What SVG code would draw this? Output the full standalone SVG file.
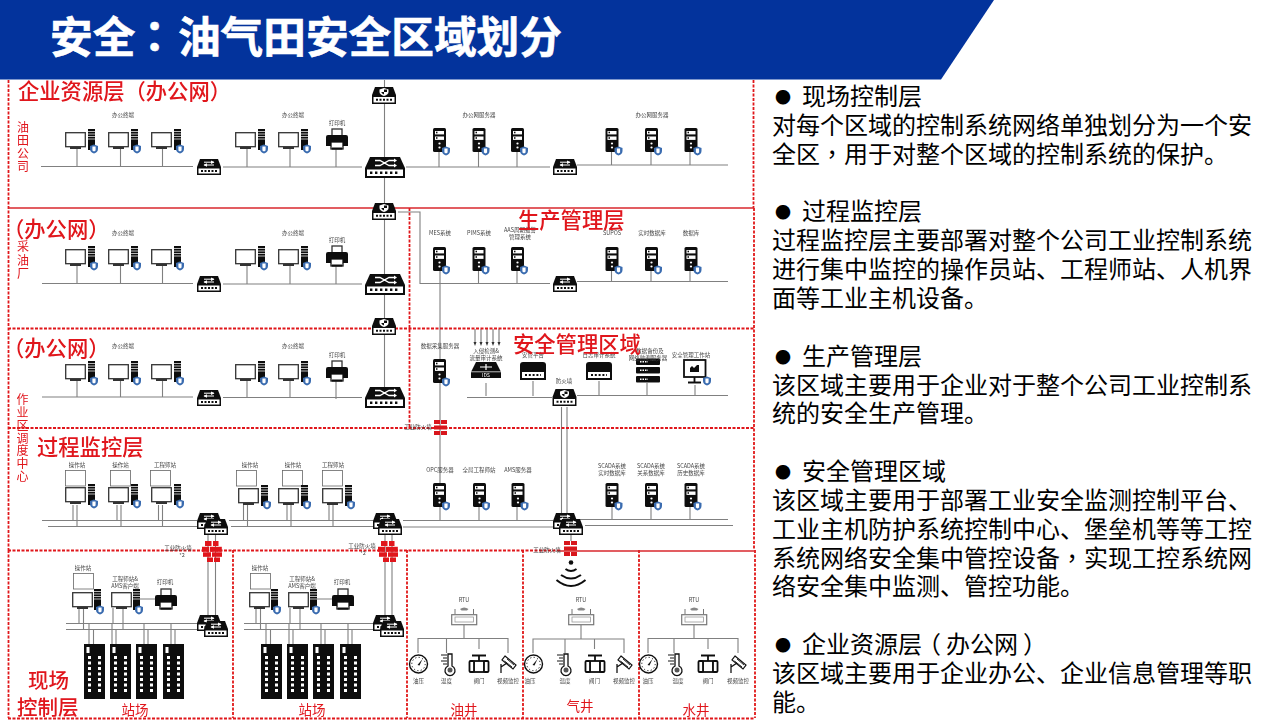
<svg xmlns="http://www.w3.org/2000/svg" width="1280" height="720" viewBox="0 0 1280 720">
<style>
text{font-family:"Noto Sans CJK SC","Noto Sans",sans-serif}
.t{font-size:24px;fill:#000}
.p{font-family:"Noto Sans CJK TC",sans-serif}
.s{font-size:5.5px;fill:#444;text-anchor:middle}
.r{font-size:21.3px;fill:#e0141a;font-weight:500}
.v{font-size:12px;fill:#e0141a;text-anchor:middle}
.w{font-size:13.5px;fill:#e0141a;text-anchor:middle}
.c{stroke:#808080;stroke-width:1.1;fill:none}
.d{stroke:#e0141a;stroke-width:1.8;stroke-dasharray:3 1.5;fill:none}
.f{stroke:#d9262b;stroke-width:1.7;fill:none}
.m{fill:#fff;stroke:#333;stroke-width:1.3}
.u{fill:#fff;stroke:#666;stroke-width:.8}
.k{fill:#111}
.wl{fill:none;stroke:#fff;stroke-width:1}
</style>
<defs>
<filter id="soft" filterUnits="userSpaceOnUse" x="0" y="0" width="1280" height="720"><feGaussianBlur stdDeviation="0.35"/></filter>
<g id="sh"><path d="M0 -4.5L4 -3V0Q4 3 0 4.5Q-4 3 -4 0V-3Z" fill="#3a6cb0"/><path d="M-1.6 -2.5H1.6V1.5L0 2.6L-1.6 1.5Z" fill="#fff"/></g>
<g id="tw"><rect x="0" y="0" width="7" height="21" class="k"/><path d="M0 2.5H7M0 5H7M0 7.5H7M0 10H7" stroke="#fff" stroke-width=".7"/></g>
<g id="pc"><rect x=".7" y=".7" width="19.6" height="14" class="m"/><rect x="5" y="15" width="11" height="2" fill="#333"/><use href="#tw" x="23" y="-3"/><use href="#sh" x="29" y="17"/></g>
<g id="pc2"><rect x=".7" y=".7" width="19.6" height="14" class="m"/><rect x="5" y="15" width="11" height="2" fill="#333"/><use href="#tw" x="22" y="-3"/><use href="#sh" x="28" y="18"/></g>
<g id="up"><rect x=".5" y=".5" width="20" height="15.5" class="u"/></g>
<g id="srv"><rect x="0" y="0" width="13" height="24" rx="1.5" class="k"/><rect x="2" y="3" width="9" height="3.4" fill="#fff"/><rect x="2" y="8.5" width="9" height="3.4" fill="#fff"/><rect x="3" y="3.7" width="1.5" height="1.6" class="k"/><rect x="3" y="9.2" width="1.5" height="1.6" class="k"/><circle cx="6.5" cy="15.5" r="1.1" fill="#fff"/><circle cx="6.5" cy="19.5" r="1.1" fill="#fff"/><use href="#sh" x="13" y="23"/></g>
<g id="sw"><path d="M3 0H21L24 8V16H0V8Z" class="k"/><rect x="1.5" y="9.5" width="21" height="5" fill="#fff"/><path d="M4 12H20" stroke="#111" stroke-width="2" stroke-dasharray="2 1.5"/><path d="M7 3.2H17M7 6H17" class="wl"/><path d="M14 1.5L17.5 3.2L14 4.9ZM10 4.3L6.5 6L10 7.7Z" fill="#fff"/></g>
<g id="fw"><path d="M3 0H21L24 8V17H0V8Z" class="k"/><rect x="1.5" y="10" width="21" height="5.5" fill="#fff"/><path d="M4 12.7H20" stroke="#111" stroke-width="2" stroke-dasharray="2 1.5"/><path d="M12 1L16.5 2.4V5Q16.5 7.5 12 9Q7.5 7.5 7.5 5V2.4Z" fill="#fff"/><path d="M12 2.5H15V5H12ZM12 5H9.2Q9.8 6.7 12 7.5Z" class="k"/></g>
<g id="core"><path d="M5 0H35L40 11V21H0V11Z" class="k"/><rect x="2" y="12.5" width="36" height="6.5" fill="#fff"/><path d="M5 15.7H35" stroke="#111" stroke-width="2.4" stroke-dasharray="2.4 2.6"/><path d="M10 3.5H15L24 8.5H30M10 8.5H15L24 3.5H30" stroke="#fff" stroke-width="1.3" fill="none"/><path d="M29 1.5L32 3.5L29 5.5ZM29 6.5L32 8.5L29 10.5Z" fill="#fff"/></g>
<g id="prn"><rect x="6" y="0" width="10" height="8" class="m"/><path d="M2 6H20Q22 6 22 8V17H0V8Q0 6 2 6Z" class="k"/><rect x="5" y="13" width="12" height="7" fill="#fff" stroke="#111" stroke-width="1.3"/><rect x="6" y="18.5" width="10" height="2" class="k"/></g>
<g id="rb"><g fill="#e0141a"><rect x="3" y="0" width="6.5" height="5"/><rect x="11" y="0" width="5.5" height="5"/><rect x="0" y="5.8" width="7" height="5"/><rect x="7.8" y="5.8" width="12" height="5"/><rect x="1" y="11.3" width="8" height="4.5"/><rect x="10" y="11.3" width="10" height="4.5"/><rect x="5" y="16.5" width="6" height="4.5"/><rect x="12" y="16.5" width="6" height="4.5"/></g></g>
<g id="rs"><g fill="#d8141a"><rect x="0" y="0" width="6" height="4"/><rect x="7" y="0" width="6" height="4"/><rect x="0" y="5.5" width="13" height="4"/><rect x="0" y="11" width="6" height="4"/><rect x="7" y="11" width="6" height="4"/></g></g>
<g id="mod"><rect width="21" height="55" class="k"/><rect x="2.5" y="3" width="3" height="6" fill="#fff"/><g fill="#fff"><path d="M4 12h3v3h-3zM14 12h3v3h-3zM4 17.5h3v3h-3zM14 17.5h3v3h-3zM4 23h3v3h-3zM14 23h3v3h-3zM4 28.5h3v3h-3zM14 28.5h3v3h-3zM4 34h3v3h-3zM14 34h3v3h-3zM4 39.5h3v3h-3zM14 39.5h3v3h-3zM4 45h3v3h-3zM14 45h3v3h-3z"/></g></g>
<g id="box"><path d="M3 0H23Q26 0 26 3V18H0V3Q0 0 3 0Z" class="k"/><rect x="2" y="10" width="22" height="6" fill="#fff"/><path d="M5 13H21" stroke="#111" stroke-width="2.2" stroke-dasharray="2 1.8"/></g>
<g id="rtu"><rect x=".7" y=".7" width="25" height="10" fill="#fff" stroke="#777" stroke-width="1.2"/><rect x="4" y="3" width="18.5" height="5" fill="#fff" stroke="#999" stroke-width=".8"/><path d="M4 0V-5M22.5 0V-5" stroke="#777" stroke-width="1"/><path d="M9 -5Q13 -8 17.5 -5L16 -3.5H10.5Z" fill="#888"/></g>
<g id="gauge"><circle r="9" fill="#fff" stroke="#111" stroke-width="1.4"/><circle r="6.7" fill="none" stroke="#111" stroke-width="1" stroke-dasharray="1.2 2.3"/><path d="M-1 1L4 -5L1 1.5Z" class="k"/></g>
<g id="thermo"><path d="M-2 -10H2V2A5 5 0 1 1 -2 2Z" fill="#fff" stroke="#111" stroke-width="1.3"/><circle cy="6" r="2.5" fill="#555"/><path d="M-9 -9H-3M-7 -6H-3M-9 -3H-3M-7 0H-3" stroke="#111" stroke-width="1.1"/></g>
<g id="valve"><path d="M-7 -8.5H7M0 -8.5V-3" stroke="#111" stroke-width="1.8"/><rect x="-5" y="-3" width="10" height="11" fill="#fff" stroke="#111" stroke-width="1.8"/><rect x="-9.5" y="-3" width="4.5" height="11" rx="1" fill="#fff" stroke="#111" stroke-width="1.8"/><rect x="5" y="-3" width="4.5" height="11" rx="1" fill="#fff" stroke="#111" stroke-width="1.8"/></g>
<g id="cam"><path d="M-3 -8L8 1L5 5L-6 -4Z" fill="#fff" stroke="#111" stroke-width="1.2"/><path d="M-1 -5L6 1M-3.5 -3L4 3" stroke="#111" stroke-width=".9"/><path d="M-7 9V0M-7 3L-1 -1" stroke="#111" stroke-width="1.3" fill="none"/></g>
</defs>
<rect width="1280" height="720" fill="#fff"/>

<g id="diagram" filter="url(#soft)">
<g id="connectors">
<path class="c" d="M384.5 80V388M398 212H420V283.5H550M440 271V520M561.5 407V514M567 407V514M571 535V541"/>
<path class="c" d="M41 166.5H193M223 167H362M406 167H550M577 165H728M77 149V166.5M120.5 149V166.5M162.5 149V166.5M247 149V167M290 149V167M336 149V167M439 152V167M478.5 152V167M517 152V167M611.5 152V165M651 152V165M690 152V165"/>
<path class="c" d="M42 283.5H193M223 284H362M577 281.5H728M77 266V283.5M120.5 266V283.5M162.5 266V283.5M247 266V284M290 266V284M336 266V284M478.5 271V283.5M517 271V283.5M611.5 271V281.5M651 271V281.5M690 271V281.5"/>
<path class="c" d="M42 397H193M223 397.5H362M467 397.5H552M577 395.5H728M77 381V397M120.5 381V397M162.5 381V397M247 381V397.5M290 381V397.5M336 381V399M486 383V396M533 381V396M599 381V395M647 383V395M695 385V395"/>
<path class="c" d="M42 520.5H197M48 526.5H205M229 520.5H375M231 526.5H383M403 520.5H553M403 527H556M578 519.5H728M585 525.5H733"/>
<path class="c" d="M73 505V520.5M77 505V526.5M117 505V520.5M121 505V526.5M158.5 505V520.5M162.5 505V526.5M243.5 505V520.5M247.5 505V526.5M287 505V520.5M291 505V526.5M329 505V520.5M333 505V526.5M479 507V520.5M517 507V520.5M612 507V519.5M651 507V519.5M690 507V519.5"/>
<path class="c" d="M208 529V615M215.5 535V621M385 529V615M392 535V621"/>
<path class="c" d="M66 623.5H197M66 629.5H204M244 623.5H374M244 629.5H381M140 599H155M317 599H332"/>
<path class="c" d="M79 608V623.5M83.5 608V629.5M113 608V623.5M123 608V629.5M89 623.5V644M93.5 629.5V644M112 623.5V644M116 629.5V644M144 623.5V644M148 629.5V644M171 623.5V644M175 629.5V644"/>
<path class="c" d="M256 608V623.5M260.5 608V629.5M290 608V623.5M300 608V629.5M266 623.5V644M270.5 629.5V644M289 623.5V644M293 629.5V644M321 623.5V644M325 629.5V644M348 623.5V644M352 629.5V644"/>
<path class="c" d="M464 625V638.5M418 653V638.5H508V653M446.5 638.5V653M479 638.5V649"/>
<path class="c" d="M581 625V639M533 653V639H624V653M565 639V653M594.5 639V649"/>
<path class="c" d="M694 625V638.5M648 653V638.5H738V653M674 638.5V653M708 638.5V649"/>
<path d="M475 329V344M481 329V344M487 329V344M493 329V344M499 329V344" stroke="#444" stroke-width=".8"/>
<path d="M473.5 342H476.5L475 346ZM479.5 342H482.5L481 346ZM485.5 342H488.5L487 346ZM491.5 342H494.5L493 346ZM497.5 342H500.5L499 346Z" fill="#333"/>
</g>

<g id="zones">
<path class="d" d="M8.5 80V550M8.5 550V718M753.5 80V208M754 208V550M8 328.5H754M8 428H754M409.5 208V428M8 550.5H560M233 550V718M407 550V718M523 550V718M639 550V718M755 550V718M8 718.5H755"/>
<path class="f" d="M8 208H754M560 551H755"/>
</g>

<g id="ent-fw"><use href="#fw" x="372" y="87"/></g>
<g id="ent-core"><use href="#core" x="365" y="157"/></g>
<g id="ent-sw1"><use href="#sw" x="197" y="159"/></g>
<g id="ent-sw2"><use href="#sw" x="553" y="159"/></g>
<g id="ent-terminals1"><use href="#pc" x="65" y="132"/><use href="#pc" x="108" y="132"/><use href="#pc" x="151" y="132"/><text class="s" x="123" y="117">办公终端</text></g>
<g id="ent-terminals2"><use href="#pc" x="235" y="132"/><use href="#pc" x="278" y="132"/><text class="s" x="293" y="117">办公终端</text></g>
<g id="ent-printer"><use href="#prn" x="326" y="129"/><text class="s" x="337" y="124.500">打印机</text></g>
<g id="ent-servers1"><use href="#srv" x="433" y="128"/><use href="#srv" x="472.5" y="128"/><use href="#srv" x="511" y="128"/><text class="s" x="479" y="117">办公网服务器</text></g>
<g id="ent-servers2"><use href="#srv" x="605.5" y="128"/><use href="#srv" x="645" y="128"/><use href="#srv" x="684.5" y="128"/><text class="s" x="652" y="117">办公网服务器</text></g>

<g id="plant-fw"><use href="#fw" x="372" y="203"/></g>
<g id="plant-core"><use href="#core" x="365" y="274"/></g>
<g id="plant-sw1"><use href="#sw" x="197" y="276"/></g>
<g id="plant-sw2"><use href="#sw" x="553" y="276"/></g>
<g id="plant-terminals1"><use href="#pc" x="65" y="249"/><use href="#pc" x="108" y="249"/><use href="#pc" x="151" y="249"/><text class="s" x="123" y="235">办公终端</text></g>
<g id="plant-terminals2"><use href="#pc" x="235" y="249"/><use href="#pc" x="278" y="249"/><text class="s" x="293" y="235">办公终端</text></g>
<g id="plant-printer"><use href="#prn" x="326" y="246"/><text class="s" x="337" y="241.5">打印机</text></g>
<g id="mes"><use href="#srv" x="433" y="247"/><text class="s" x="440" y="235">MES系统</text></g>
<g id="pims"><use href="#srv" x="472.5" y="247"/><text class="s" x="479" y="235">PIMS系统</text></g>
<g id="aas"><use href="#srv" x="511" y="247"/><text class="s" x="520" y="232">AAS周期报警</text><text class="s" x="520" y="239">管理系统</text></g>
<g id="supos"><use href="#srv" x="605.5" y="247"/><text class="s" x="612" y="235">SUPOS</text></g>
<g id="rtdb"><use href="#srv" x="645" y="247"/><text class="s" x="652" y="235">实时数据库</text></g>
<g id="db"><use href="#srv" x="684.5" y="247"/><text class="s" x="691" y="235">数据库</text></g>

<g id="dispatch-fw"><use href="#fw" x="372" y="318"/></g>
<g id="dispatch-core"><use href="#core" x="365" y="387"/></g>
<g id="dispatch-sw"><use href="#sw" x="197" y="390"/></g>
<g id="dispatch-terminals1"><use href="#pc" x="65" y="364"/><use href="#pc" x="108" y="364"/><use href="#pc" x="151" y="364"/><text class="s" x="123" y="348">办公终端</text></g>
<g id="dispatch-terminals2"><use href="#pc" x="235" y="364"/><use href="#pc" x="278" y="364"/><text class="s" x="293" y="348">办公终端</text></g>
<g id="dispatch-printer"><use href="#prn" x="326" y="361"/><text class="s" x="337" y="356.5">打印机</text></g>
<g id="collect"><use href="#srv" x="433" y="359"/><text class="s" x="440" y="348">数据采集服务器</text></g>
<g id="ids"><path d="M476 362H496L501 372V378H471V372Z" class="k"/><path d="M480 367H492M486 364V370" stroke="#fff" stroke-width="1.2"/><rect x="471" y="371.5" width="30" height=".7" fill="#fff"/><text x="486" y="377" font-size="5" fill="#fff" text-anchor="middle">IDS</text><text class="s" x="486" y="353">入侵检测&amp;</text><text class="s" x="486" y="360">流量审计系统</text></g>
<g id="audit"><use href="#box" x="520" y="362"/><text class="s" x="533" y="357">安管平台</text></g>
<g id="log"><use href="#box" x="586" y="362"/><text class="s" x="599" y="357">日志审计系统</text></g>
<g id="backup"><g class="k"><rect x="636" y="358.5" width="24" height="6.5" rx="1"/><rect x="636" y="367" width="24" height="6.5" rx="1"/><rect x="636" y="376" width="24" height="6.5" rx="1"/></g><path d="M640 361.8H648M640 370.3H648M640 379.3H648" stroke="#fff" stroke-width="1.5" stroke-dasharray="1.5 1"/><text class="s" x="650" y="353">数据备份及</text><text class="s" x="648" y="360">网络监测服务器</text></g>
<g id="sec-ws"><rect x="684" y="360" width="21.5" height="17" fill="#fff" stroke="#111" stroke-width="1.8"/><path d="M690 372V368L692 366L694 368L697 365H699V372Z" class="k"/><path d="M694.5 377V382M688 382.5H701" stroke="#111" stroke-width="1.8"/><use href="#sh" x="707" y="381"/><text class="s" x="691" y="356.5">安全管理工作站</text></g>
<g id="sec-fw"><use href="#fw" x="552.5" y="389"/><text class="s" x="564" y="383">防火墙</text></g>
<g id="brick1"><use href="#rs" x="434" y="420"/><text class="s" x="418" y="429">工业防火墙</text></g>

<g id="ops1"><use href="#up" x="65" y="470"/><use href="#pc" x="65" y="487"/><use href="#up" x="110" y="470"/><use href="#pc" x="108" y="487"/><use href="#up" x="150" y="470"/><use href="#pc" x="151" y="487"/><text class="s" x="77" y="467">操作站</text><text class="s" x="120.5" y="467">操作站</text><text class="s" x="165" y="467">工程师站</text></g>
<g id="ops2"><use href="#up" x="236" y="470"/><use href="#pc" x="238" y="488"/><use href="#up" x="282" y="470"/><use href="#pc" x="278" y="488"/><use href="#up" x="322" y="470"/><use href="#pc" x="322" y="488"/><text class="s" x="250" y="467">操作站</text><text class="s" x="293" y="467">操作站</text><text class="s" x="333" y="467">工程师站</text></g>
<g id="opc"><use href="#srv" x="433" y="483"/><text class="s" x="440" y="471.5">OPC服务器</text></g>
<g id="global-eng"><use href="#srv" x="473" y="483"/><text class="s" x="479" y="471.5">全局工程师站</text></g>
<g id="ams"><use href="#srv" x="511.5" y="483"/><text class="s" x="518" y="471.5">AMS服务器</text></g>
<g id="scada1"><use href="#srv" x="605.5" y="483"/><text class="s" x="612" y="468">SCADA系统</text><text class="s" x="612" y="475">实时数据库</text></g>
<g id="scada2"><use href="#srv" x="645" y="483"/><text class="s" x="651" y="468">SCADA系统</text><text class="s" x="651" y="475">关系数据库</text></g>
<g id="scada3"><use href="#srv" x="684.5" y="483"/><text class="s" x="691" y="468">SCADA系统</text><text class="s" x="691" y="475">历史数据库</text></g>
<g id="sw-pair1"><use href="#sw" x="197" y="513"/><use href="#sw" x="204" y="519"/></g>
<g id="sw-pair2"><use href="#sw" x="373" y="513"/><use href="#sw" x="378" y="519"/></g>
<g id="sw-pair3"><use href="#sw" x="553" y="513"/><use href="#sw" x="559" y="519"/></g>
<g id="brick2"><use href="#rb" x="202" y="541"/><text class="s" x="178" y="550">工业防火墙</text><text class="s" x="182" y="557">*2</text></g>
<g id="brick3"><use href="#rb" x="378" y="541"/><text class="s" x="362" y="547.5">工业防火墙</text><text class="s" x="363" y="555">*2</text></g>
<g id="brick4"><use href="#rs" x="564" y="541"/><text class="s" x="547" y="551.5">工业防火墙</text></g>
<g id="wifi"><circle cx="571" cy="562.5" r="2.3" class="k"/><path d="M565.5 569Q571 573 576.5 569M561 575Q571 582 581 575M556.5 580Q571 592 585.5 580" fill="none" stroke="#111" stroke-width="2"/></g>

<g id="field1-ops"><use href="#up" x="73" y="573"/><use href="#pc2" x="72" y="592"/><text class="s" x="83" y="570">操作站</text></g>
<g id="field1-eng"><use href="#pc2" x="111" y="592"/><text class="s" x="125" y="581">工程师站&amp;</text><text class="s" x="125" y="587.5">AMS客户端</text></g>
<g id="field1-prn"><use href="#prn" x="155" y="589"/><text class="s" x="165" y="584">打印机</text></g>
<g id="field1-sw"><use href="#sw" x="197" y="615"/><use href="#sw" x="204" y="621"/></g>
<g id="field1-mods"><use href="#mod" x="84" y="644"/><use href="#mod" x="110" y="644"/><use href="#mod" x="136" y="644"/><use href="#mod" x="163" y="644"/></g>
<g id="field2-ops"><use href="#up" x="250" y="573"/><use href="#pc2" x="249" y="592"/><text class="s" x="260" y="570">操作站</text></g>
<g id="field2-eng"><use href="#pc2" x="288" y="592"/><text class="s" x="302" y="581">工程师站&amp;</text><text class="s" x="302" y="587.5">AMS客户端</text></g>
<g id="field2-prn"><use href="#prn" x="332" y="589"/><text class="s" x="342" y="584">打印机</text></g>
<g id="field2-sw"><use href="#sw" x="373" y="615"/><use href="#sw" x="380" y="621"/></g>
<g id="field2-mods"><use href="#mod" x="261" y="644"/><use href="#mod" x="287" y="644"/><use href="#mod" x="313" y="644"/><use href="#mod" x="340" y="644"/></g>

<g id="well-oil"><use href="#rtu" x="451" y="614"/><text class="s" x="464" y="602">RTU</text><use href="#gauge" x="418.5" y="664"/><use href="#thermo" x="450" y="664"/><use href="#valve" x="479" y="664"/><use href="#cam" x="508" y="664"/><text class="s" x="418.5" y="683">油压</text><text class="s" x="446.5" y="683">温度</text><text class="s" x="479" y="683">阀门</text><text class="s" x="508" y="683">视频监控</text></g>
<g id="well-gas"><use href="#rtu" x="568" y="614"/><text class="s" x="581" y="602">RTU</text><use href="#gauge" x="533.5" y="664"/><use href="#thermo" x="566" y="664"/><use href="#valve" x="595" y="664"/><use href="#cam" x="624" y="664"/><text class="s" x="530" y="683">油压</text><text class="s" x="565" y="683">温度</text><text class="s" x="594.5" y="683">阀门</text><text class="s" x="624" y="683">视频监控</text></g>
<g id="well-water"><use href="#rtu" x="681" y="614"/><text class="s" x="694" y="602">RTU</text><use href="#gauge" x="648.5" y="664"/><use href="#thermo" x="677" y="664"/><use href="#valve" x="708" y="664"/><use href="#cam" x="738" y="664"/><text class="s" x="648" y="683">油压</text><text class="s" x="678" y="683">温度</text><text class="s" x="708" y="683">阀门</text><text class="s" x="738" y="683">视频监控</text></g>

<g id="zone-labels">
<text class="r" x="18" y="99">企业资源层（办公网）</text>
<text class="r" x="3" y="237">（办公网）</text>
<text class="r" x="3" y="356">（办公网）</text>
<text class="r" x="518" y="227.5">生产管理层</text>
<text class="r" x="513" y="352">安全管理区域</text>
<text class="r" x="37" y="455">过程监控层</text>
<text class="r" x="28" y="688" style="font-size:20.5px">现场</text>
<text class="r" x="17" y="715" style="font-size:20.5px">控制层</text>
<g class="v"><text x="23" y="132">油</text><text x="23" y="145">田</text><text x="23" y="158">公</text><text x="23" y="171">司</text>
<text x="23" y="251">采</text><text x="23" y="265">油</text><text x="23" y="278">厂</text>
<text x="22.5" y="404">作</text><text x="22.5" y="417">业</text><text x="22.5" y="430">区</text><text x="22.5" y="443">调</text><text x="22.5" y="455">度</text><text x="22.5" y="468">中</text><text x="22.5" y="481">心</text></g>
<text class="w" x="135" y="715">站场</text><text class="w" x="312" y="715">站场</text><text class="w" x="464" y="715">油井</text><text class="w" x="580" y="711">气井</text><text class="w" x="696" y="715">水井</text>
</g>
</g>

<g id="header">
<path d="M0 0H994L941 79.5H0Z" fill="#03339c"/>
<text x="50" y="53" font-size="42.67" font-weight="700" fill="#fff" stroke="#fff" stroke-width=".6">安全<tspan class="p" dx="-2">：</tspan><tspan dx="2">油气田安全区域划分</tspan></text>
</g>

<g id="notes" class="t">
<text x="775" y="105" class="t"><tspan font-size="16" dy="-2">●</tspan><tspan x="802" dy="2">现场控制层</tspan></text>
<text x="772" y="134" class="t">对每个区域的控制系统网络单独划分为一个安</text>
<text x="772" y="163" class="t">全区<tspan class="p">，</tspan>用于对整个区域的控制系统的保护。</text>
<text x="775" y="220" class="t"><tspan font-size="16" dy="-2">●</tspan><tspan x="802" dy="2">过程监控层</tspan></text>
<text x="772" y="249" class="t">过程监控层主要部署对整个公司工业控制系统</text>
<text x="772" y="278" class="t">进行集中监控的操作员站、工程师站、人机界</text>
<text x="772" y="307" class="t">面等工业主机设备。</text>
<text x="775" y="365" class="t"><tspan font-size="16" dy="-2">●</tspan><tspan x="802" dy="2">生产管理层</tspan></text>
<text x="772" y="394" class="t">该区域主要用于企业对于整个公司工业控制系</text>
<text x="772" y="422" class="t">统的安全生产管理。</text>
<text x="775" y="480" class="t"><tspan font-size="16" dy="-2">●</tspan><tspan x="802" dy="2">安全管理区域</tspan></text>
<text x="772" y="509" class="t">该区域主要用于部署工业安全监测控制平台、</text>
<text x="772" y="538" class="t">工业主机防护系统控制中心、堡垒机等等工控</text>
<text x="772" y="567" class="t">系统网络安全集中管控设备<tspan class="p">，</tspan>实现工控系统网</text>
<text x="772" y="595" class="t">络安全集中监测、管控功能。</text>
<text x="775" y="653" class="t"><tspan font-size="16" dy="-2">●</tspan><tspan x="802" dy="2">企业资源层<tspan dx="-5">（</tspan><tspan dx="5">办公网</tspan><tspan dx="5">）</tspan></tspan></text>
<text x="772" y="682" class="t">该区域主要用于企业办公、企业信息管理等职</text>
<text x="772" y="711" class="t">能。</text>
</g>
</svg>
